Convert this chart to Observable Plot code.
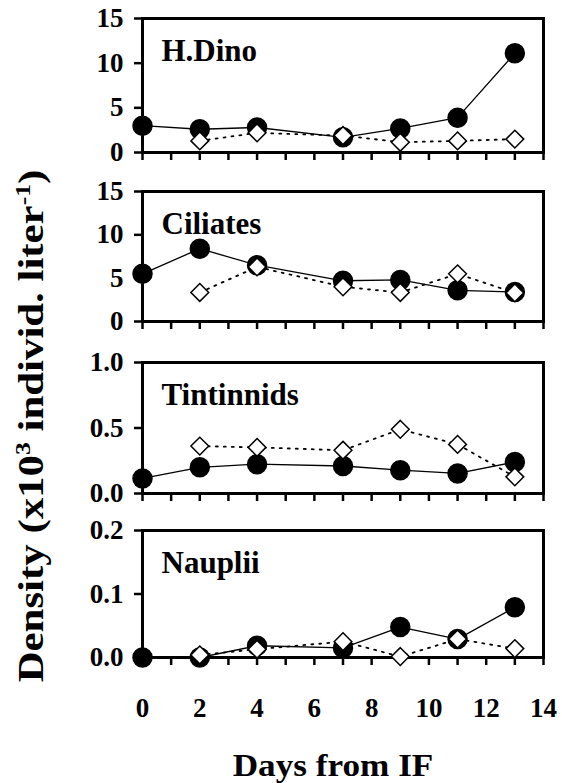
<!DOCTYPE html>
<html>
<head>
<meta charset="utf-8">
<script src="https://cdn.jsdelivr.net/npm/d3@7"></script>
<script src="https://cdn.jsdelivr.net/npm/@observablehq/plot@0.6"></script>
<style>
  html, body { margin: 0; padding: 0; background: #fff; }
  #wrap { position: relative; width: 562px; height: 783px; overflow: hidden; font-family: "Liberation Serif", "DejaVu Serif", serif; font-weight: bold; color: #000; }
  .panel { position: absolute; left: 0; }
  #ytitle { position: absolute; left: 31px; top: 426px; transform: translate(-50%, -50%) rotate(-90deg) scaleX(1.19); white-space: nowrap; font-size: 36px; }
  #xtitle { position: absolute; left: 333px; top: 765px; transform: translate(-50%, -50%) scaleX(1.1); white-space: nowrap; font-size: 32px; }
  sup { font-size: 0.6em; vertical-align: 0.6em; line-height: 0; }
  svg text { font-family: "Liberation Serif", serif; }
</style>
</head>
<body>
<div id="wrap">
  <div id="ytitle">Density (x10<sup>3</sup> individ. liter<sup>-1</sup>)</div>
  <div id="xtitle">Days from IF</div>
</div>
<script>
const days = [0, 2, 4, 7, 9, 11, 13];
const panelNames = ["H.Dino", "Ciliates", "Tintinnids", "Nauplii"];

const hdinoFilled = [3.0, 2.6, 2.8, 1.7, 2.7, 3.9, 11.1];
const hdinoOpen   = [null, 1.3, 2.2, 1.9, 1.15, 1.3, 1.5];
const ciliatesFilled = [5.5, 8.4, 6.5, 4.7, 4.8, 3.6, 3.4];
const ciliatesOpen   = [null, 3.35, 6.3, 4.0, 3.35, 5.5, 3.3];
const tintFilled = [0.115, 0.2, 0.224, 0.21, 0.178, 0.153, 0.24];
const tintOpen   = [null, 0.362, 0.352, 0.33, 0.49, 0.375, 0.127];
const naupFilled = [0, 0, 0.0185, 0.015, 0.048, 0.029, 0.079];
const naupOpen   = [null, 0.004, 0.013, 0.025, 0.0015, 0.029, 0.014];

const filledSeries = [hdinoFilled, ciliatesFilled, tintFilled, naupFilled];
const openSeries = [hdinoOpen, ciliatesOpen, tintOpen, naupOpen];

const yDomains = [[0, 15], [0, 15], [0, 1], [0, 0.2]];
const yTicks = [[0, 5, 10, 15], [0, 5, 10, 15], [0, 0.5, 1.0], [0, 0.1, 0.2]];
const yFormats = ["d", "d", ".1f", ".1f"];
const xTicks = [0, 1, 2, 3, 4, 5, 6, 7, 8, 9, 10, 11, 12, 13, 14];
const xTickLabels = ["0", "", "2", "", "4", "", "6", "", "8", "", "10", "", "12", "", "14"];

// layout
const tops = [0, 170, 340, 510];
const marginTops = [18, 21, 22, 20];
const plotHeights = [134, 130, 131, 127];

const wrap = document.getElementById("wrap");
const serif = "Liberation Serif, serif";

for (let i = 0; i < 4; i++) {
  const last = i === 3;
  const mb = last ? 75 : 14;
  const filled = days.map((d, k) => ({day: d, v: filledSeries[i][k]}));
  const open = days.map((d, k) => ({day: d, v: openSeries[i][k]})).filter(d => d.v != null);
  const fmt = d3.format(yFormats[i]);
  const chart = Plot.plot({
    width: 562,
    height: marginTops[i] + plotHeights[i] + mb,
    marginTop: marginTops[i],
    marginBottom: mb,
    marginLeft: 142,
    marginRight: 19,
    style: {fontFamily: serif, fontWeight: "bold", fontSize: "27px", color: "#000", background: "transparent", overflow: "visible"},
    x: {domain: [0, 14]},
    y: {domain: yDomains[i]},
    marks: [
      Plot.axisX({ticks: xTicks, tickSize: 8, strokeWidth: 2.5, label: null, tickPadding: 32,
        fontFamily: serif, fontWeight: "bold", fontSize: 27,
        tickFormat: last ? (d => xTickLabels[xTicks.indexOf(d)]) : () => ""}),
      Plot.axisY({ticks: yTicks[i], tickSize: 8, strokeWidth: 2.5, label: null, tickPadding: 11,
        fontFamily: serif, fontWeight: "bold", fontSize: 27, tickFormat: fmt}),
      Plot.frame({stroke: "black", strokeWidth: 3}),
      Plot.line(filled, {x: "day", y: "v", stroke: "black", strokeWidth: 1.3}),
      Plot.line(open, {x: "day", y: "v", stroke: "black", strokeWidth: 1.8, strokeDasharray: "2,6"}),
      Plot.dot(filled, {x: "day", y: "v", r: 9.5, fill: "black", stroke: "black"}),
      Plot.dot(open, {x: "day", y: "v", symbol: "diamond2", r: 8, fill: "white", stroke: "black", strokeWidth: 1.5}),
      Plot.text([panelNames[i]], {frameAnchor: "top-left", dx: 19, dy: 20, fontSize: 31, fontWeight: "bold", fontFamily: serif, fill: "black", lineAnchor: "top"})
    ]
  });
  chart.classList.add("panel");
  chart.style.top = tops[i] + "px";
  wrap.appendChild(chart);
}
</script>
</body>
</html>
